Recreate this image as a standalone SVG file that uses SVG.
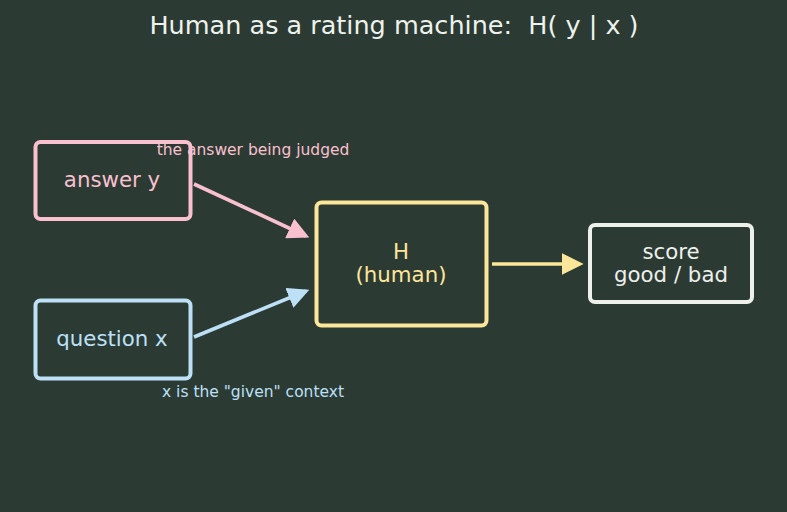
<svg xmlns="http://www.w3.org/2000/svg" width="787" height="512" viewBox="0 0 787 512">
<style>
text{font-family:"DejaVu Sans","Liberation Sans",sans-serif;text-anchor:middle;white-space:pre}
.box{fill:#2b3a33;stroke-width:4}
.lbl{font-size:21.3px}
.note{font-size:15.5px}
.edge{fill:none;stroke-width:3.6}
</style>
<defs>
<marker id="ap" markerWidth="6" markerHeight="6" refX="5" refY="3" orient="auto" markerUnits="strokeWidth" viewBox="0 0 6 6"><path d="M0,0 L6,3 L0,6 Z" fill="#f9c0cf"/></marker>
<marker id="ab" markerWidth="6" markerHeight="6" refX="5" refY="3" orient="auto" markerUnits="strokeWidth" viewBox="0 0 6 6"><path d="M0,0 L6,3 L0,6 Z" fill="#bde0f7"/></marker>
<marker id="ay" markerWidth="6" markerHeight="6" refX="5" refY="3" orient="auto" markerUnits="strokeWidth" viewBox="0 0 6 6"><path d="M0,0 L6,3 L0,6 Z" fill="#fde699"/></marker>
</defs>
<rect width="787" height="512" fill="#2b3a33"/>
<text x="394" y="34" font-size="25.5" fill="#eef2ec">Human as a rating machine:  H( y | x )</text>
<g id="connectors">
<line class="edge" x1="194" y1="184" x2="306" y2="236" stroke="#f9c0cf" marker-end="url(#ap)"/>
<line class="edge" x1="194" y1="337" x2="306" y2="291" stroke="#bde0f7" marker-end="url(#ab)"/>
<line class="edge" x1="492" y1="264" x2="580" y2="264" stroke="#fde699" marker-end="url(#ay)"/>
</g>
<g id="answer">
<rect class="box" x="35.5" y="142" width="155" height="77" rx="5" stroke="#f9c0cf"/>
<text class="lbl" x="112" y="187" fill="#f9c0cf">answer y</text>
</g>
<g id="question">
<rect class="box" x="35.5" y="300.5" width="155" height="78" rx="5" stroke="#bde0f7"/>
<text class="lbl" x="112" y="346" fill="#bde0f7">question x</text>
</g>
<g id="human">
<rect class="box" x="316.5" y="202.5" width="170" height="123" rx="5" stroke="#fde699"/>
<text class="lbl" x="401" y="259" fill="#fde699">H</text>
<text class="lbl" x="401" y="282" fill="#fde699">(human)</text>
</g>
<g id="score">
<rect class="box" x="590" y="225" width="162" height="77" rx="5" stroke="#eef0ec"/>
<text class="lbl" x="671" y="259" fill="#eef0ec">score</text>
<text class="lbl" x="671" y="282" fill="#eef0ec">good / bad</text>
</g>
<g id="notes">
<text class="note" x="253" y="155" fill="#f9c0cf">the answer being judged</text>
<text class="note" x="253" y="397" fill="#bde0f7">x is the "given" context</text>
</g>
</svg>
